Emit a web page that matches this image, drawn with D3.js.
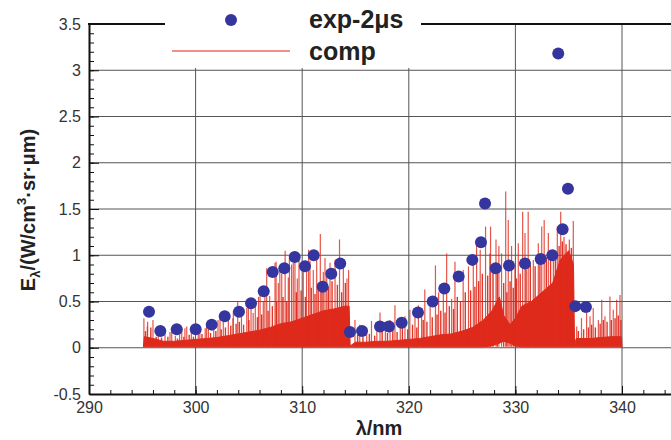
<!DOCTYPE html>
<html>
<head>
<meta charset="utf-8">
<script src="https://cdn.jsdelivr.net/npm/d3@7"></script>
<style>
  body { margin: 0; background: #fff; }
  svg { display: block; font-family: Arial, "Liberation Sans", sans-serif; }
  .tick text { font-size: 16px; fill: #333; }
</style>
</head>
<body>
<svg width="671" height="440"></svg>
<script>
// measured points, exp-2us
var expPoints = [
    [295.63, 0.39], [296.69, 0.18], [298.23, 0.20], [300.01, 0.20], [301.51, 0.25],
    [302.73, 0.34], [304.07, 0.39], [305.2, 0.48], [306.39, 0.61], [307.23, 0.82],
    [308.32, 0.86], [309.3, 0.98], [310.26, 0.88], [311.08, 1.00], [311.92, 0.66],
    [312.73, 0.80], [313.57, 0.91], [314.48, 0.17], [315.61, 0.18], [317.3, 0.23],
    [318.14, 0.23], [319.33, 0.27], [320.86, 0.38], [322.24, 0.50], [323.33, 0.64],
    [324.68, 0.77], [325.96, 0.95], [326.77, 1.14], [327.15, 1.56], [328.15, 0.86],
    [329.4, 0.89], [330.9, 0.91], [332.37, 0.96], [333.46, 1.00], [334.02, 3.18],
    [334.43, 1.28], [334.93, 1.72], [335.62, 0.45], [336.62, 0.44]
];

// computed spectrum: strong lines [nm, peak]
var compLines = [
    [295.15, 0.32], [295.47, 0.23], [295.5, 0.28], [296.0, 0.30], [296.5, 0.14],
    [297.13, 0.16], [297.6, 0.17], [297.76, 0.19], [298.1, 0.13], [298.5, 0.19],
    [298.7, 0.21], [299.0, 0.21], [299.17, 0.23], [299.6, 0.19], [300.25, 0.23],
    [300.4, 0.21], [300.9, 0.21], [301.03, 0.26], [301.2, 0.27], [301.7, 0.23],
    [302.1, 0.30], [302.29, 0.32], [302.6, 0.28], [303.07, 0.375], [303.5, 0.32],
    [303.54, 0.40], [303.95, 0.50], [304.3, 0.36], [304.8, 0.43], [304.95, 0.45],
    [305.2, 0.52], [305.4, 0.375], [305.6, 0.48], [305.9, 0.55], [306.05, 0.59],
    [306.35, 0.50], [306.5, 0.66], [306.67, 0.86], [306.95, 0.56], [307.45, 0.92],
    [307.55, 0.93], [307.76, 0.70], [307.9, 0.84], [308.08, 0.80], [308.4, 1.05],
    [308.7, 0.76], [308.8, 0.97], [309.0, 0.90], [309.16, 0.92], [309.32, 0.95],
    [309.54, 0.75], [309.7, 1.0], [310.1, 0.85], [310.41, 0.87], [310.6, 1.06],
    [310.73, 0.94], [311.04, 0.84], [311.36, 1.0], [311.7, 1.23], [311.98, 0.82],
    [312.14, 0.97], [312.3, 0.84], [312.61, 0.92], [313.08, 0.95], [313.5, 1.17],
    [313.86, 0.90], [314.2, 0.75], [314.35, 0.84],
    [314.95, 0.30], [315.4, 0.25], [316.05, 0.22], [316.5, 0.29], [317.0, 0.27],
    [317.3, 0.38], [317.8, 0.28], [318.24, 0.30], [318.7, 0.46], [319.2, 0.28],
    [319.64, 0.34], [320.1, 0.41], [320.58, 0.34], [320.9, 0.46], [321.2, 0.43],
    [321.5, 0.63], [322.0, 0.49], [322.5, 0.89], [322.8, 0.60], [323.24, 0.63],
    [323.55, 1.02], [324.02, 0.53], [324.33, 0.93], [325.1, 0.84], [325.6, 0.88],
    [326.05, 0.92], [326.36, 1.17], [326.7, 1.06], [327.2, 1.31], [327.6, 1.02],
    [327.67, 1.31], [328.18, 1.17], [328.45, 1.10], [328.7, 1.02], [329.09, 1.69],
    [329.33, 1.38], [329.64, 1.10], [329.96, 0.88], [330.27, 1.13], [330.68, 1.47],
    [330.9, 1.24], [331.2, 1.47], [331.68, 0.95], [332.15, 1.13], [332.47, 1.31],
    [332.7, 1.38], [333.09, 1.24], [333.56, 1.06], [333.93, 1.31], [334.25, 1.47],
    [334.56, 1.20], [335.06, 1.17], [335.43, 1.37],
    [335.75, 0.23], [336.2, 0.32], [336.68, 0.375], [337.0, 0.34], [337.3, 0.43],
    [337.78, 0.30], [338.1, 0.52], [338.4, 0.34], [338.87, 0.555], [339.18, 0.41],
    [339.5, 0.52], [339.81, 0.57]
];

// computed spectrum: weaker lines [nm, peak]
var compWeakLines = [
    [295.3, 0.18], [295.8, 0.22], [296.3, 0.12], [296.8, 0.11], [297.4, 0.12],
    [298.3, 0.10], [298.9, 0.12], [299.4, 0.14], [299.8, 0.12], [300.6, 0.15],
    [301.4, 0.16], [301.9, 0.18], [302.4, 0.20], [302.8, 0.22], [303.3, 0.24],
    [303.8, 0.26], [304.1, 0.28], [304.5, 0.25], [305.0, 0.30], [305.8, 0.33],
    [306.2, 0.36], [306.8, 0.40], [307.2, 0.45], [307.6, 0.50], [308.2, 0.55],
    [308.55, 0.50], [309.45, 0.60], [309.9, 0.62], [310.3, 0.55], [310.85, 0.65],
    [311.2, 0.58], [311.5, 0.70], [311.85, 0.62], [312.45, 0.66], [312.8, 0.72],
    [313.3, 0.68], [313.7, 0.60], [314.05, 0.70],
    [315.2, 0.14], [315.7, 0.12], [316.3, 0.15], [316.8, 0.13], [317.5, 0.18],
    [318.0, 0.16], [318.5, 0.20], [318.9, 0.17], [319.4, 0.22], [319.9, 0.20],
    [320.35, 0.25], [320.75, 0.22], [321.35, 0.30], [321.7, 0.28], [322.2, 0.33],
    [322.65, 0.36], [323.0, 0.40], [323.4, 0.38], [323.8, 0.45], [324.2, 0.42],
    [324.55, 0.55], [324.85, 0.50], [325.3, 0.60], [325.8, 0.62], [326.2, 0.66],
    [326.55, 0.72], [326.9, 0.80], [327.4, 0.78], [327.9, 0.85], [328.3, 0.80],
    [328.9, 0.70], [329.2, 0.60], [329.5, 0.72], [329.8, 0.65], [330.1, 0.75],
    [330.45, 0.80], [331.0, 0.85], [331.4, 0.90], [331.85, 0.88], [332.3, 0.92],
    [332.9, 0.98], [333.3, 0.95], [333.75, 1.05], [334.1, 1.10], [334.4, 1.15],
    [334.75, 1.12], [335.25, 1.08],
    [335.9, 0.18], [336.4, 0.20], [336.85, 0.22], [337.15, 0.25], [337.5, 0.22],
    [337.95, 0.26], [338.25, 0.30], [338.6, 0.28], [339.0, 0.30], [339.35, 0.32],
    [339.65, 0.35], [339.9, 0.30]
];

// computed spectrum: dense unresolved part [nm, low, high]
var compBand = [
    [295.1, 0.01, 0.01], [295.2, 0.01, 0.12], [296.0, 0.01, 0.10], [297.0, 0.01, 0.07],
    [298.0, 0.01, 0.07], [299.0, 0.01, 0.08], [300.0, 0.01, 0.09], [301.0, 0.01, 0.10],
    [302.0, 0.01, 0.11], [303.0, 0.01, 0.13], [304.0, 0.01, 0.15], [305.0, 0.01, 0.17],
    [306.0, 0.01, 0.19], [307.0, 0.01, 0.22], [308.0, 0.01, 0.26], [309.0, 0.01, 0.28],
    [310.0, 0.01, 0.32], [311.0, 0.01, 0.36], [312.0, 0.01, 0.40], [313.0, 0.01, 0.42],
    [314.0, 0.01, 0.45], [314.4, 0.01, 0.45], [314.5, 0.01, 0.02],
    [315.0, 0.01, 0.06], [316.0, 0.01, 0.06], [317.0, 0.01, 0.07], [318.0, 0.01, 0.07],
    [319.0, 0.01, 0.08], [320.0, 0.01, 0.09], [321.0, 0.01, 0.10], [322.0, 0.01, 0.12],
    [323.0, 0.01, 0.14], [324.0, 0.01, 0.15], [325.0, 0.01, 0.18], [326.0, 0.01, 0.22],
    [327.0, 0.01, 0.30], [327.8, 0.02, 0.40], [328.5, 0.05, 0.55], [328.9, 0.07, 0.35],
    [329.5, 0.05, 0.25], [330.0, 0.02, 0.32], [330.6, 0.01, 0.45], [331.5, 0.01, 0.50],
    [332.3, 0.01, 0.58], [333.5, 0.01, 0.70], [334.2, 0.01, 0.95], [335.0, 0.01, 1.05],
    [335.45, 0.01, 0.90], [335.55, 0.01, 0.02],
    [335.7, 0.01, 0.10], [337.0, 0.01, 0.10], [338.0, 0.01, 0.11], [339.0, 0.01, 0.12],
    [339.95, 0.01, 0.12], [340.0, 0.01, 0.01]
];

var xTicks = [290, 300, 310, 320, 330, 340];
var yTicks = [-0.5, 0, 0.5, 1, 1.5, 2, 2.5, 3, 3.5];

function main() {
    var svg = d3.select("svg"),
        width = +svg.attr("width"),
        height = +svg.attr("height");

    var x = d3.scaleLinear().domain([290, 350]).range([89, 728.6]);
    var y = d3.scaleLinear().domain([-0.5, 3.5]).range([394, 24]);

    var red = "#de2a1c";

    // grid
    var grid = svg.append("g").attr("stroke", "#555").attr("stroke-width", 1);
    grid.selectAll(".hg")
        .data(yTicks.filter(function(d) { return d > -0.5 && d < 3.5; }))
        .enter().append("line")
        .attr("x1", x(290)).attr("x2", width)
        .attr("y1", function(d) { return y(d); })
        .attr("y2", function(d) { return y(d); });
    grid.selectAll(".vg")
        .data(xTicks.filter(function(d) { return d > 290; }))
        .enter().append("line")
        .attr("x1", function(d) { return x(d); })
        .attr("x2", function(d) { return x(d); })
        .attr("y1", y(3.5)).attr("y2", y(-0.5));

    // comp: dense part
    var band = d3.area()
        .x(function(d) { return x(d[0]); })
        .y0(function(d) { return y(d[1]); })
        .y1(function(d) { return y(d[2]); });
    svg.append("path")
        .datum(compBand)
        .attr("d", band)
        .attr("fill", red)
        .attr("stroke", red)
        .attr("stroke-width", 1);

    // comp: lines
    function drawLines(data, op, w) {
        svg.append("g").selectAll("line")
            .data(data)
            .enter().append("line")
            .attr("x1", function(d) { return x(d[0]); })
            .attr("x2", function(d) { return x(d[0]); })
            .attr("y1", y(0.01))
            .attr("y2", function(d) { return y(d[1]); })
            .attr("stroke", red)
            .attr("stroke-width", w)
            .attr("stroke-opacity", op);
    }
    drawLines(compWeakLines, 0.95, 1.4);
    drawLines(compLines, 0.8, 1.2);

    // exp points
    svg.append("g").selectAll("circle")
        .data(expPoints)
        .enter().append("circle")
        .attr("cx", function(d) { return x(d[0]); })
        .attr("cy", function(d) { return y(d[1]); })
        .attr("r", 6)
        .attr("fill", "#35359f");

    // axes
    svg.append("g")
        .attr("transform", "translate(0," + y(-0.5) + ")")
        .call(d3.axisBottom(x).tickValues(xTicks).tickSizeInner(-8).tickSizeOuter(0).tickPadding(8));
    svg.append("g")
        .attr("transform", "translate(0," + y(-0.5) + ")")
        .call(d3.axisBottom(x).tickValues(d3.range(292, 350, 2)).tickSize(-4).tickFormat(""))
        .select(".domain").remove();

    svg.append("g")
        .attr("transform", "translate(" + x(290) + ",0)")
        .call(d3.axisLeft(y).tickValues(yTicks).tickSizeInner(-10).tickSizeOuter(0).tickPadding(8)
            .tickFormat(function(d) { return String(d); }));
    svg.append("g")
        .attr("transform", "translate(" + x(290) + ",0)")
        .call(d3.axisLeft(y).tickValues(d3.range(-0.4, 3.45, 0.1)).tickSize(-5).tickFormat(""))
        .select(".domain").remove();

    svg.selectAll(".domain").attr("stroke", "#111").attr("stroke-width", 2);
    svg.selectAll(".tick line").attr("stroke", "#111");

    // top frame
    svg.append("line")
        .attr("x1", x(290) - 1).attr("x2", width)
        .attr("y1", y(3.5)).attr("y2", y(3.5))
        .attr("stroke", "#111").attr("stroke-width", 2);

    // legend
    var legend = svg.append("g");
    legend.append("rect")
        .attr("x", 165).attr("y", 0).attr("width", 256).attr("height", 68)
        .attr("fill", "#fff");
    legend.append("circle")
        .attr("cx", 231).attr("cy", 20).attr("r", 6).attr("fill", "#35359f");
    legend.append("text")
        .attr("x", 309).attr("y", 28)
        .style("font-size", "25px").style("font-weight", "bold").attr("fill", "#222")
        .text("exp-2\u03bcs");
    legend.append("line")
        .attr("x1", 172).attr("x2", 290).attr("y1", 51).attr("y2", 51)
        .attr("stroke", "#ef6a62").attr("stroke-width", 1.5);
    legend.append("text")
        .attr("x", 309).attr("y", 60)
        .style("font-size", "25px").style("font-weight", "bold").attr("fill", "#222")
        .text("comp");

    // axis titles
    svg.append("text")
        .attr("x", 379).attr("y", 435)
        .attr("text-anchor", "middle")
        .style("font-size", "20px").style("font-weight", "bold").attr("fill", "#222")
        .text("\u03bb/nm");

    var yt = svg.append("text")
        .attr("transform", "translate(35,210) rotate(-90)")
        .attr("text-anchor", "middle")
        .style("font-size", "20px").style("font-weight", "bold").attr("fill", "#222");
    yt.append("tspan").text("E");
    yt.append("tspan").attr("dy", 5).style("font-size", "13px").text("\u03bb");
    yt.append("tspan").attr("dy", -5).text("/(W/cm");
    yt.append("tspan").attr("dy", -9).style("font-size", "13px").text("3");
    yt.append("tspan").attr("dy", 9).text("\u00b7sr\u00b7\u03bcm)");
}

main();
</script>
</body>
</html>
